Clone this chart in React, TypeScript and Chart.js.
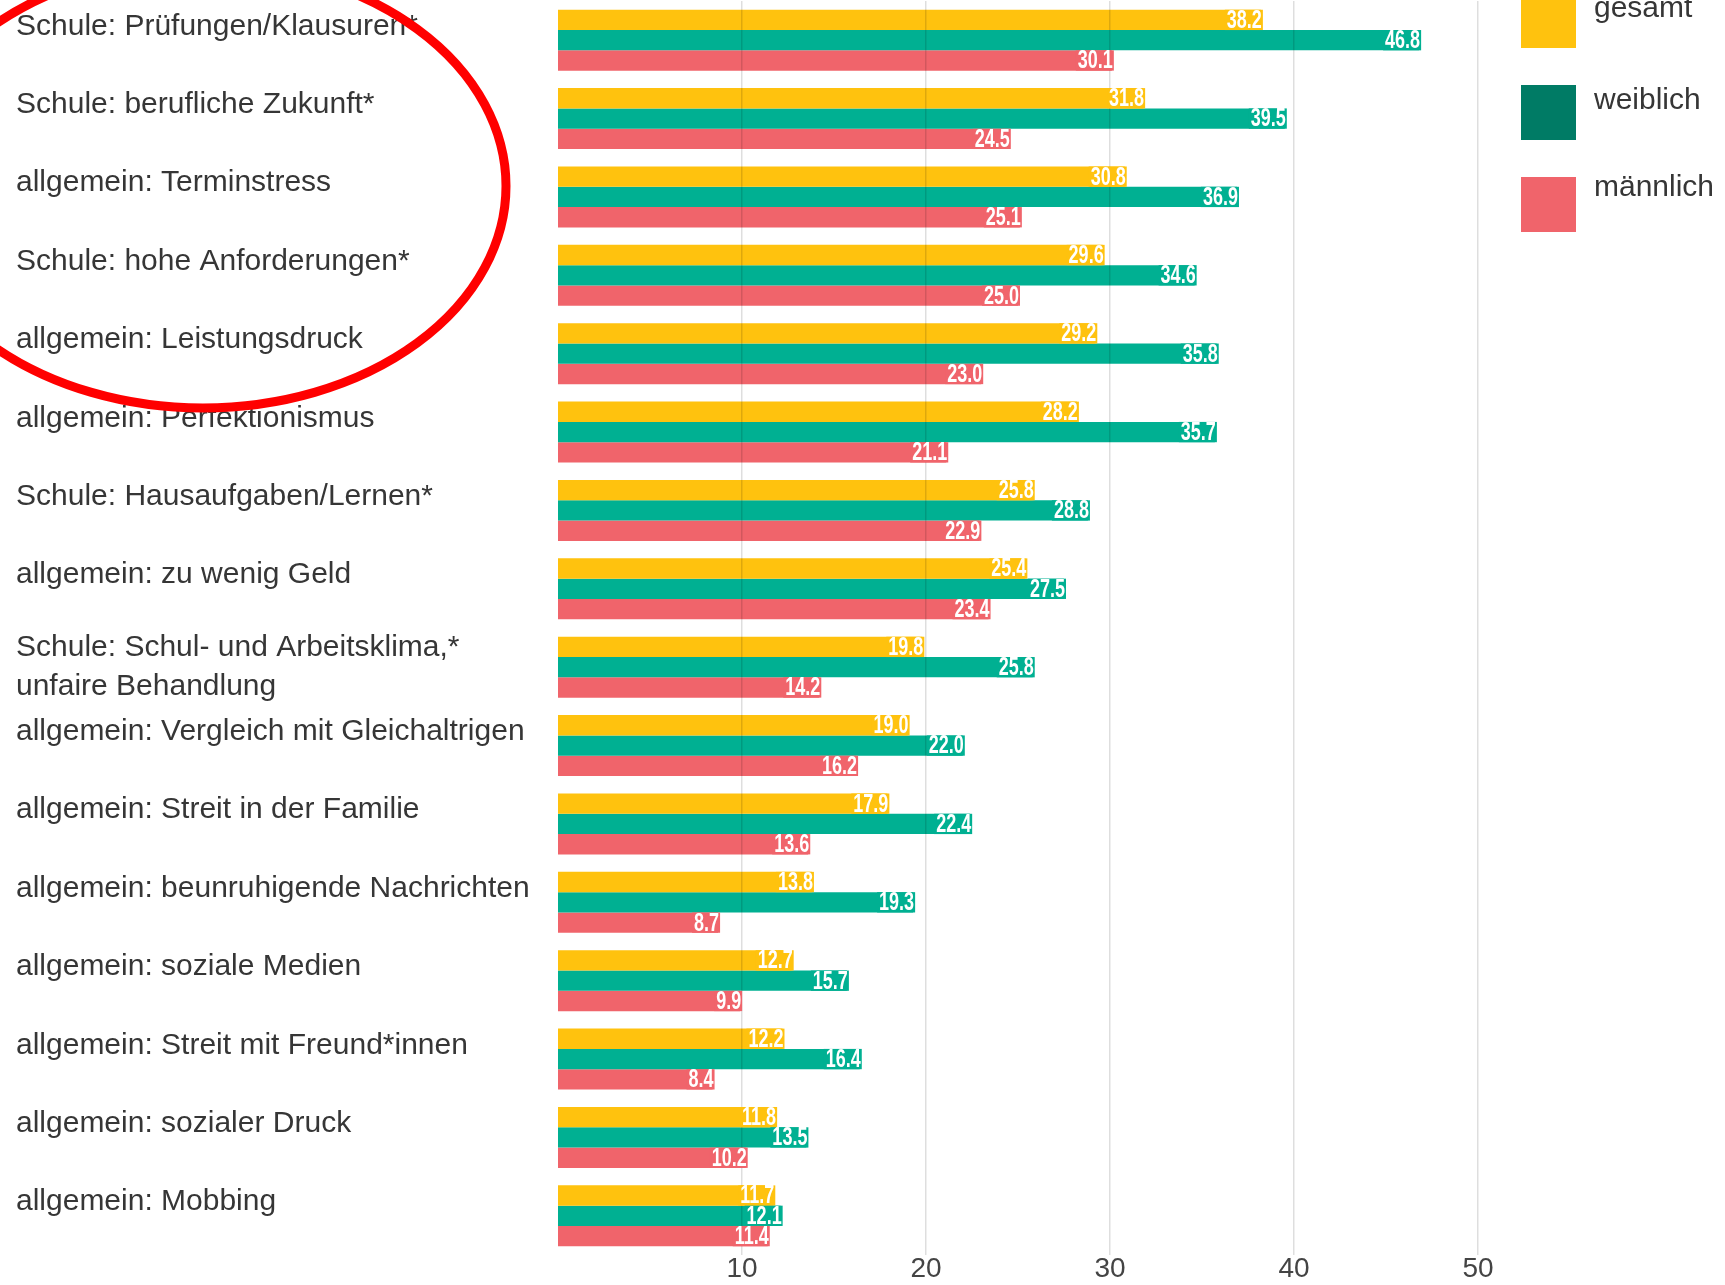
import React, { useEffect, useRef } from "react";
import { Chart, registerables } from "chart.js";

Chart.register(...registerables);

const categories: string[][] = [
  ["Schule: Prüfungen/Klausuren*", ""],
  ["Schule: berufliche Zukunft*", ""],
  ["allgemein: Terminstress", ""],
  ["Schule: hohe Anforderungen*", ""],
  ["allgemein: Leistungsdruck", ""],
  ["allgemein: Perfektionismus", ""],
  ["Schule: Hausaufgaben/Lernen*", ""],
  ["allgemein: zu wenig Geld", ""],
  ["Schule: Schul- und Arbeitsklima,*", "unfaire Behandlung"],
  ["allgemein: Vergleich mit Gleichaltrigen", ""],
  ["allgemein: Streit in der Familie", ""],
  ["allgemein: beunruhigende Nachrichten", ""],
  ["allgemein: soziale Medien", ""],
  ["allgemein: Streit mit Freund*innen", ""],
  ["allgemein: sozialer Druck", ""],
  ["allgemein: Mobbing", ""],
];

const gesamt = [38.2, 31.8, 30.8, 29.6, 29.2, 28.2, 25.8, 25.4, 19.8, 19.0, 17.9, 13.8, 12.7, 12.2, 11.8, 11.7];
const weiblich = [46.8, 39.5, 36.9, 34.6, 35.8, 35.7, 28.8, 27.5, 25.8, 22.0, 22.4, 19.3, 15.7, 16.4, 13.5, 12.1];
const maennlich = [30.1, 24.5, 25.1, 25.0, 23.0, 21.1, 22.9, 23.4, 14.2, 16.2, 13.6, 8.7, 9.9, 8.4, 10.2, 11.4];

const seriesNames = ["gesamt", "weiblich", "männlich"];
const barColors = ["#FFC20E", "#00B092", "#F0646B"];
const legendColors = ["#FFC20E", "#007B65", "#F0646B"];
const xTicks = [10, 20, 30, 40, 50];

const TEXT_COLOR = "#363636";
const FONT = '"Liberation Sans", Arial, Helvetica, sans-serif';

const valueLabelsPlugin = {
  id: "valueLabels",
  afterDraw(chart: any) {
    const ctx = chart.ctx as CanvasRenderingContext2D;
    ctx.save();
    chart.data.datasets.forEach((ds: any, di: number) => {
      const meta = chart.getDatasetMeta(di);
      meta.data.forEach((el: any, i: number) => {
        const v = ds.data[i] as number;
        const txt = v.toFixed(1);
        const { x, y, height } = el.getProps(["x", "y", "height"], true);
        ctx.font = `bold 25px ${FONT}`;
        const sx = 0.72;
        const w = ctx.measureText(txt).width * sx;
        const right = x + 1;
        ctx.fillStyle = barColors[di];
        ctx.fillRect(right - w - 2, y - height / 2, w + 3, height);
        ctx.save();
        ctx.translate(right, y + 1);
        ctx.scale(sx, 1);
        ctx.fillStyle = "#ffffff";
        ctx.textAlign = "right";
        ctx.textBaseline = "middle";
        ctx.fillText(txt, 0, 0);
        ctx.restore();
      });
    });
    ctx.restore();
  },
};

const legendPlugin = {
  id: "customLegend",
  afterDraw(chart: any) {
    const ctx = chart.ctx as CanvasRenderingContext2D;
    const right = chart.chartArea.right;
    const boxTops = [-7, 85, 177];
    const baselines = [17, 109, 196];
    ctx.save();
    seriesNames.forEach((name, i) => {
      ctx.fillStyle = legendColors[i];
      ctx.fillRect(right + 43, boxTops[i], 55, 55);
      ctx.fillStyle = TEXT_COLOR;
      ctx.font = `30px ${FONT}`;
      ctx.textAlign = "left";
      ctx.textBaseline = "alphabetic";
      ctx.fillText(name, right + 116, baselines[i]);
    });
    ctx.restore();
  },
};

const ellipsePlugin = {
  id: "ellipseMark",
  afterDraw(chart: any) {
    const ctx = chart.ctx as CanvasRenderingContext2D;
    ctx.save();
    ctx.strokeStyle = "#ff0000";
    ctx.lineWidth = 9;
    ctx.beginPath();
    ctx.ellipse(203, 186, 303, 222, 0, 0, Math.PI * 2);
    ctx.stroke();
    ctx.restore();
  },
};

export default function App() {
  const canvasRef = useRef<HTMLCanvasElement | null>(null);

  useEffect(() => {
    document.body.style.margin = "0";
    document.body.style.overflow = "hidden";
    const canvas = canvasRef.current;
    if (!canvas) return;
    const chart = new Chart(canvas, {
      type: "bar",
      data: {
        labels: categories as any,
        datasets: [
          { label: seriesNames[0], data: gesamt, backgroundColor: barColors[0] },
          { label: seriesNames[1], data: weiblich, backgroundColor: barColors[1] },
          { label: seriesNames[2], data: maennlich, backgroundColor: barColors[2] },
        ],
      },
      options: {
        indexAxis: "y",
        responsive: false,
        animation: false,
        devicePixelRatio: 1,
        layout: { padding: { top: 1, left: 16, right: 247, bottom: 0 } },
        datasets: {
          bar: { categoryPercentage: 0.777, barPercentage: 1.0, borderWidth: 0 },
        },
        plugins: {
          legend: { display: false },
          tooltip: { enabled: false },
        },
        scales: {
          x: {
            type: "linear",
            position: "bottom",
            min: 0,
            max: 50,
            grid: {
              color: "rgba(0,0,0,0.13)",
              lineWidth: 1.5,
              drawTicks: false,
              z: 1,
            } as any,
            border: { display: false },
            ticks: {
              padding: 0,
              color: "#444444",
              font: { family: FONT, size: 28, lineHeight: 1 },
            },
            afterBuildTicks(scale: any) {
              scale.ticks = xTicks.map((v) => ({ value: v }));
            },
            afterFit(scale: any) {
              scale.height = 30;
            },
          },
          y: {
            grid: { display: false },
            border: { display: false },
            ticks: {
              crossAlign: "far",
              autoSkip: false,
              padding: 0,
              color: TEXT_COLOR,
              font: (c: any) => {
                const lab = categories[c.index] || ["", ""];
                return { family: FONT, size: 30, lineHeight: lab[1] ? 1.3 : 0.92 };
              },
            },
            afterFit(scale: any) {
              scale.width = 542;
              scale.paddingTop = 0;
              scale.paddingBottom = 0;
            },
          },
        },
      },
      plugins: [valueLabelsPlugin, legendPlugin, ellipsePlugin],
    });
    return () => chart.destroy();
  }, []);

  return (
    <div style={{ width: 1725, height: 1285, overflow: "hidden", background: "#fff" }}>
      <canvas ref={canvasRef} width={1725} height={1285} style={{ display: "block" }} />
    </div>
  );
}
